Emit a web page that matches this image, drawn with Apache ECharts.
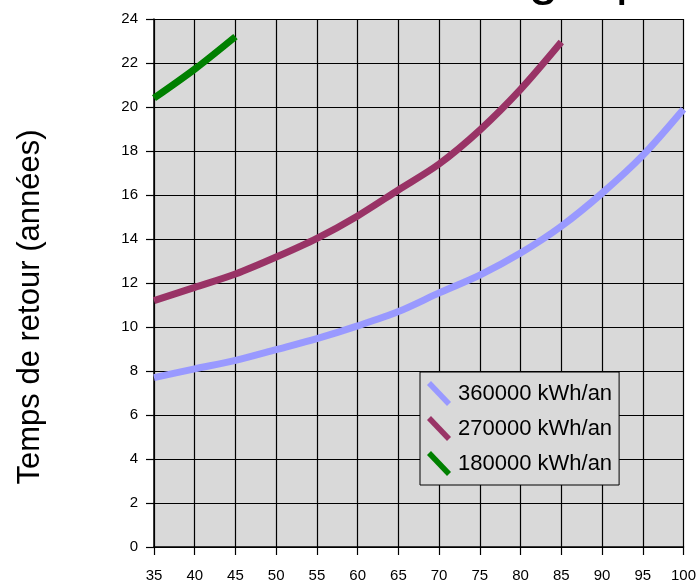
<!DOCTYPE html>
<html>
<head>
<meta charset="utf-8">
<script src="https://cdn.jsdelivr.net/npm/echarts@6/dist/echarts.min.js"></script>
<style>html,body{margin:0;padding:0;background:#fff}#c{width:699px;height:583px}</style>
</head>
<body>
<div id="c"></div>
<script>
const prices = [35, 40, 45, 50, 55, 60, 65, 70, 75, 80, 85, 90, 95, 100];
const seriesNames = ['360000 kWh/an', '270000 kWh/an', '180000 kWh/an'];
const s360 = [7.7, 8.1, 8.48, 8.97, 9.47, 10.05, 10.7, 11.55, 12.36, 13.36, 14.58, 16.08, 17.8, 19.9];
const s270 = [11.2, 11.8, 12.41, 13.18, 14.03, 15.05, 16.23, 17.41, 18.95, 20.8, 22.95];
const s180 = [20.4, 21.72, 23.2];
const yAxisTitle = 'Temps de retour (années)';
const chartTitle = "Rentabilité de l'énergie photovoltaïque";

function pairs(vals) { return vals.map((v, i) => [prices[i], v]); }
const colors = ['#9999ff', '#993366', '#008000'];
const icon = 'path://M0,4 L4,0 L24,21 L20,25 Z';
const FF = 'Liberation Sans, Arial, sans-serif';

const chart = echarts.init(document.getElementById('c'), null, {renderer: 'canvas'});
chart.setOption({
  animation: false,
  backgroundColor: '#ffffff',
  textStyle: {fontFamily: FF},
  grid: {left: 154, right: 13, top: 19, bottom: 36, show: true, backgroundColor: '#d9d9d9', borderWidth: 0},
  xAxis: {
    type: 'value', min: 35, max: 100, interval: 5,
    axisLine: {show: true, onZero: false, lineStyle: {color: '#000', width: 1.5}},
    axisTick: {show: true, length: 8, lineStyle: {color: '#000', width: 1.2}},
    axisLabel: {color: '#000', fontSize: 15, margin: 21},
    splitLine: {show: true, lineStyle: {color: '#000', width: 1.2}}
  },
  yAxis: {
    type: 'value', min: 0, max: 24, interval: 2,
    axisLine: {show: true, lineStyle: {color: '#000', width: 1.5}},
    axisTick: {show: true, length: 8, lineStyle: {color: '#000', width: 1.2}},
    axisLabel: {color: '#000', fontSize: 15, margin: 16},
    splitLine: {show: true, lineStyle: {color: '#000', width: 1.2}}
  },
  legend: {
    orient: 'vertical', left: 420, top: 372,
    itemWidth: 24, itemHeight: 25, itemGap: 10,
    padding: [9, 7, 9, 7],
    backgroundColor: '#d9d9d9', borderColor: '#000', borderWidth: 1,
    textStyle: {color: '#000', fontSize: 22, fontFamily: FF, padding: [0, 0, 0, 2]},
    data: seriesNames.map((n, i) => ({name: n, icon: icon, itemStyle: {color: colors[i]}}))
  },
  series: [s360, s270, s180].map((vals, i) => ({
    name: seriesNames[i], type: 'line', data: pairs(vals), smooth: 0.3,
    showSymbol: false, symbol: 'none', z: 3,
    lineStyle: {color: colors[i], width: 7, cap: 'butt'},
    itemStyle: {color: colors[i]}
  })),
  graphic: [
    {type: 'text', x: 30, y: 307, rotation: Math.PI / 2, style: {text: yAxisTitle, fontSize: 31, fill: '#000', fontFamily: FF, align: 'center', verticalAlign: 'middle'}},
    {type: 'text', x: 53, y: -48, style: {text: chartTitle, fontSize: 54, fill: '#000', fontFamily: FF}}
  ]
});
</script>
</body>
</html>
